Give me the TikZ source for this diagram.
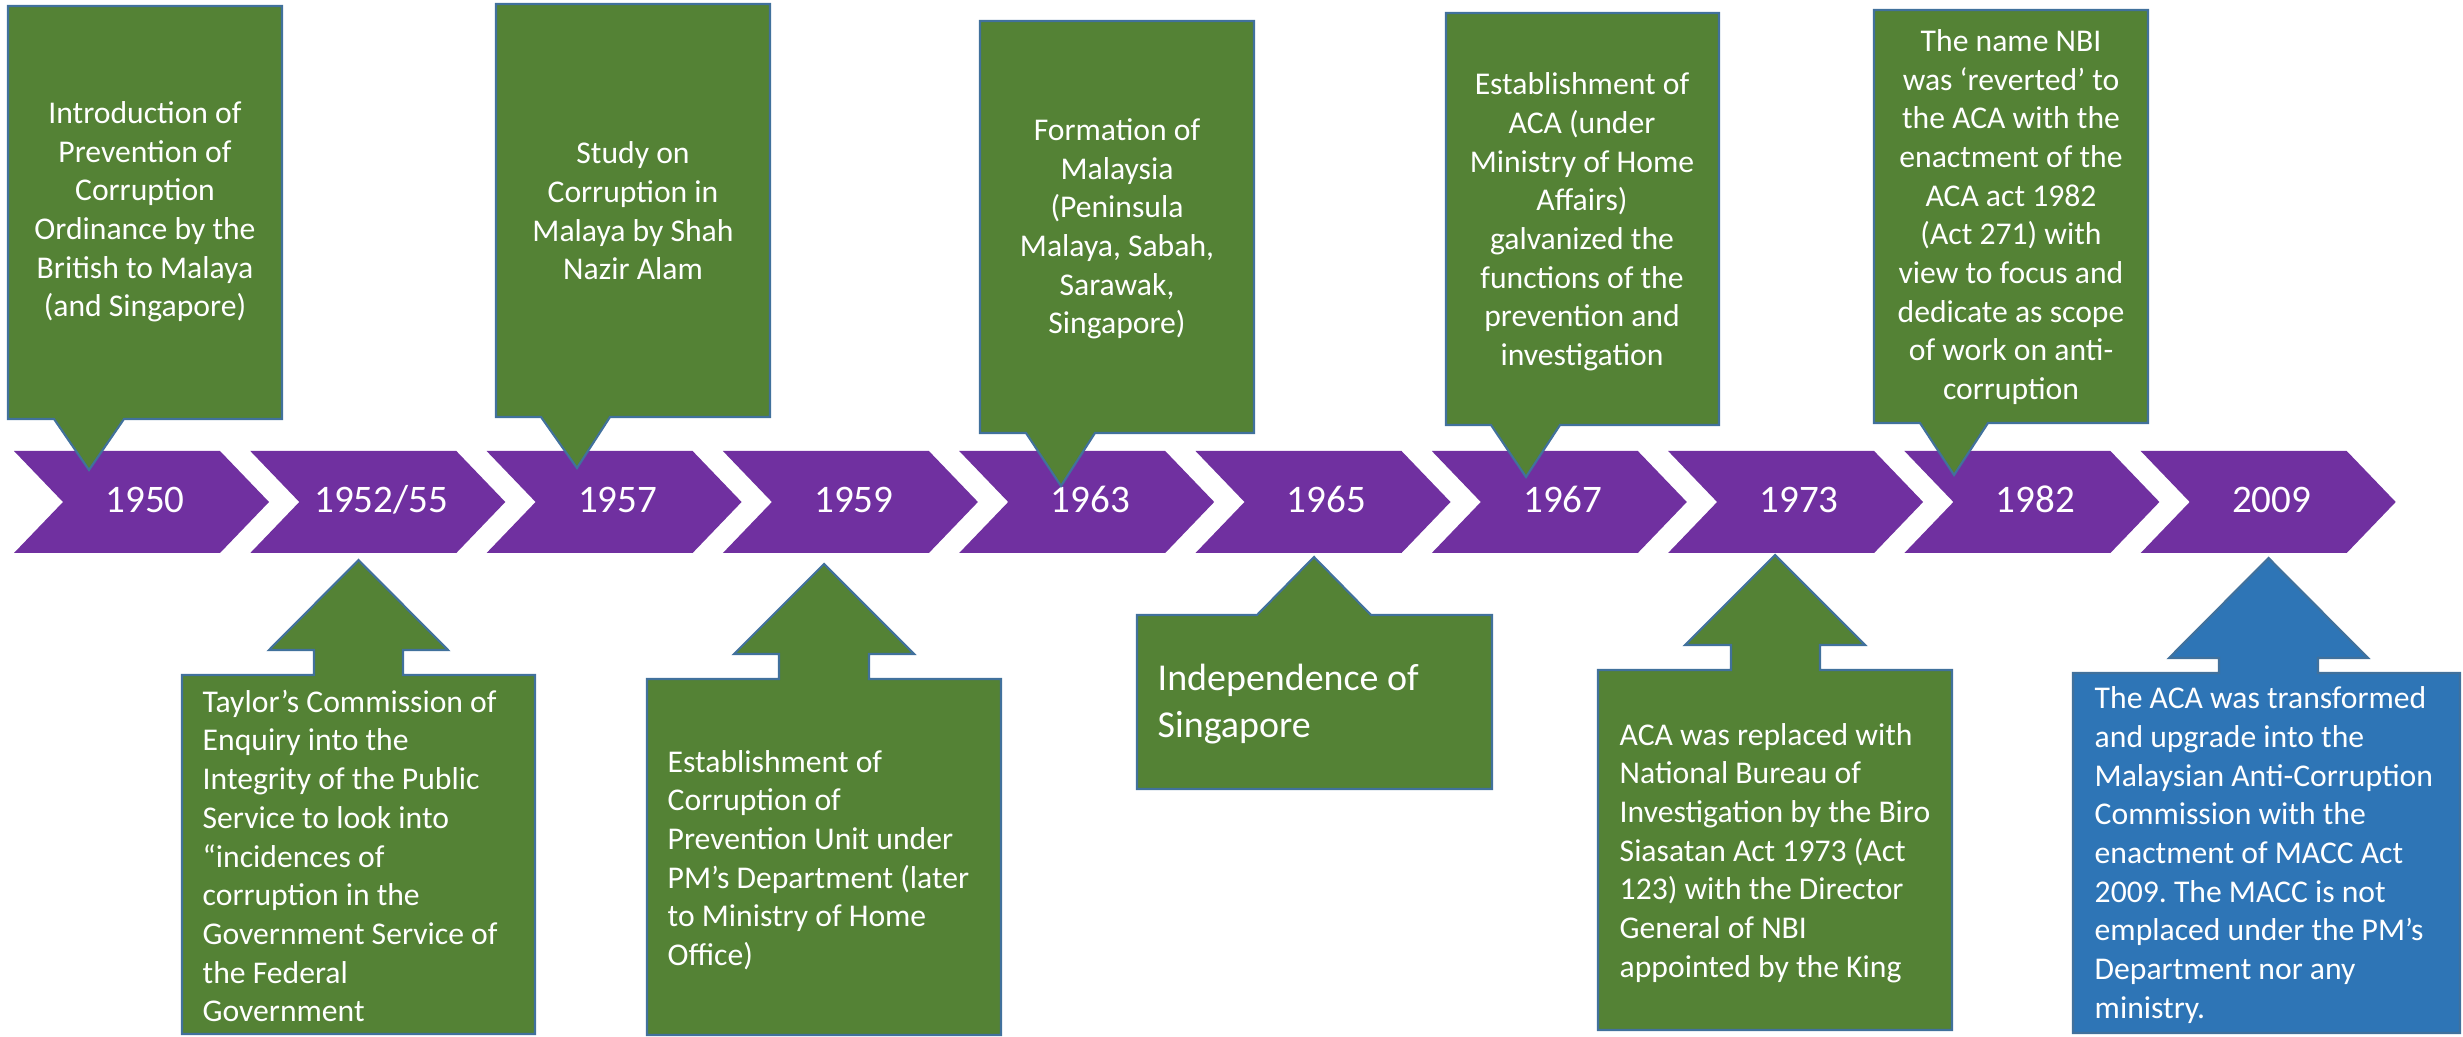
\documentclass[tikz,border=0pt]{standalone}
\usepackage{fontspec}
\setmainfont{Carlito}
\frenchspacing
\definecolor{tlpurple}{HTML}{7030A0}
\definecolor{tlgreen}{HTML}{548235}
\definecolor{tlblue}{HTML}{2E75B6}
\definecolor{tlline}{HTML}{41719C}
\tikzset{
  chev/.style={fill=tlpurple, draw=none},
  yearlbl/.style={text=white, font=\fontsize{11.1}{13.5}\selectfont, inner sep=0pt, anchor=base},
  callgreen/.style={fill=tlgreen, draw=tlline, line width=0.6pt, line join=miter},
  callblue/.style={fill=tlblue, draw=tlline, line width=0.6pt, line join=miter},
  ctxt/.style={text=white, font=\fontsize{9}{11}\selectfont, inner sep=0pt, align=center},
  ltxt/.style={text=white, font=\fontsize{9}{11}\selectfont, inner sep=0pt, align=left, anchor=west},
  bigtxt/.style={text=white, font=\fontsize{10.8}{13.2}\selectfont, inner sep=0pt, align=left, anchor=west},
}
% one chevron of the timeline band; #1 = left edge, #2 = node name, #3 = year
\newcommand{\tlchevron}[3]{%
  \fill[chev] (#1,451) -- ++(206,0) -- ++(49,51) -- ++(-49,51) -- ++(-206,0) -- ++(49,-51) -- cycle;
  \node[yearlbl] (#2) at (#1+131,513) {#3};
}
\begin{document}
\begin{tikzpicture}[x=0.01cm, y=-0.01cm]
\useasboundingbox (0,0) rectangle (2463,1037);

% timeline band
\tlchevron{14}{y1950}{1950}
\tlchevron{250.3}{y1952}{1952/55}
\tlchevron{486.6}{y1957}{1957}
\tlchevron{722.9}{y1959}{1959}
\tlchevron{959.2}{y1963}{1963}
\tlchevron{1195.5}{y1965}{1965}
\tlchevron{1431.8}{y1967}{1967}
\tlchevron{1668.1}{y1973}{1973}
\tlchevron{1904.4}{y1982}{1982}
\tlchevron{2140.7}{y2009}{2009}

% callouts above the band
\draw[callgreen] (8,6) -- (282,6) -- (282,419) -- (124,419) -- (89,470) -- (54,419) -- (8,419) -- cycle;
\node[ctxt] (t1950) at (145,212) {Introduction of\\Prevention of\\Corruption\\Ordinance by the\\British to Malaya\\(and Singapore)};

\draw[callgreen] (496,4) -- (770,4) -- (770,417) -- (610,417) -- (577,468) -- (541,417) -- (496,417) -- cycle;
\node[ctxt] (t1957) at (633,211) {Study on\\Corruption in\\Malaya by Shah\\Nazir Alam};

\draw[callgreen] (980,21) -- (1254,21) -- (1254,433) -- (1095,433) -- (1061,486) -- (1026,433) -- (980,433) -- cycle;
\node[ctxt] (t1963) at (1117,229) {Formation of\\Malaysia\\(Peninsula\\Malaya, Sabah,\\Sarawak,\\Singapore)};

\draw[callgreen] (1446,13) -- (1719,13) -- (1719,425) -- (1560,425) -- (1526,477) -- (1491,425) -- (1446,425) -- cycle;
\node[ctxt] (t1967) at (1582,222) {Establishment of\\ACA (under\\Ministry of Home\\Affairs)\\galvanized the\\functions of the\\prevention and\\investigation};

\draw[callgreen] (1874,10) -- (2148,10) -- (2148,423) -- (1988,423) -- (1954,475) -- (1920,423) -- (1874,423) -- cycle;
\node[ctxt] (t1982) at (2011,217) {The name NBI\\was ‘reverted’ to\\the ACA with the\\enactment of the\\ACA act 1982\\(Act 271) with\\view to focus and\\dedicate as scope\\of work on anti-\\corruption};

% callouts below the band
\draw[callgreen] (182,1034) -- (182,675) -- (314,675) -- (314,650) -- (269,650) -- (358.5,560) -- (448,650) -- (403,650) -- (403,675) -- (535,675) -- (535,1034) -- cycle;
\node[ltxt] (t1952) at (202,856) {Taylor’s Commission of\\Enquiry into the\\Integrity of the Public\\Service to look into\\“incidences of\\corruption in the\\Government Service of\\the Federal\\Government};

\draw[callgreen] (647,1035) -- (647,679) -- (779,679) -- (779,654) -- (734,654) -- (824,564) -- (914,654) -- (869,654) -- (869,679) -- (1001,679) -- (1001,1035) -- cycle;
\node[ltxt] (t1959) at (667,860) {Establishment of\\Corruption of\\Prevention Unit under\\PM’s Department (later\\to Ministry of Home\\Office)};

\draw[callgreen] (1137,789) -- (1137,615) -- (1257,615) -- (1314,557) -- (1371,615) -- (1492,615) -- (1492,789) -- cycle;
\node[bigtxt] (t1965) at (1157,704) {Independence of\\Singapore};

\draw[callgreen] (1598,1030) -- (1598,670) -- (1731,670) -- (1731,645) -- (1685,645) -- (1775,555) -- (1865,645) -- (1820,645) -- (1820,670) -- (1952,670) -- (1952,1030) -- cycle;
\node[ltxt] (t1973) at (1619,853) {ACA was replaced with\\National Bureau of\\Investigation by the Biro\\Siasatan Act 1973 (Act\\123) with the Director\\General of NBI\\appointed by the King};

\draw[callblue] (2073,1033) -- (2073,673) -- (2219,673) -- (2219,658) -- (2169,658) -- (2268.5,558) -- (2368,658) -- (2318,658) -- (2318,673) -- (2460,673) -- (2460,1033) -- cycle;
\node[ltxt] (t2009) at (2094,855) {The ACA was transformed\\and upgrade into the\\Malaysian Anti-Corruption\\Commission with the\\enactment of MACC Act\\2009. The MACC is not\\emplaced under the PM’s\\Department nor any\\ministry.};
\end{tikzpicture}
\end{document}
